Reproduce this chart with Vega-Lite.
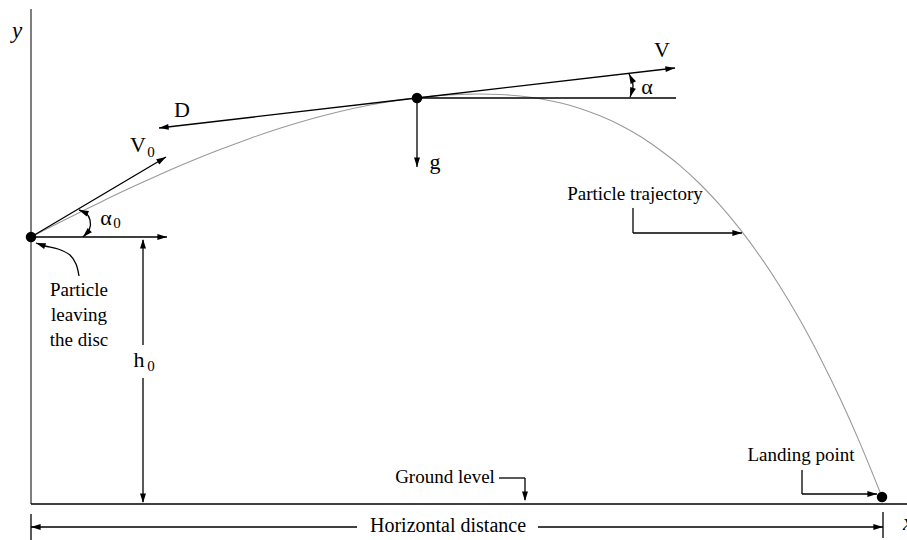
{
  "$schema": "https://vega.github.io/schema/vega-lite/v6.json",
  "width": 907,
  "height": 540,
  "autosize": {"type": "none"},
  "padding": 0,
  "background": "white",
  "config": {"view": {"stroke": null}},
  "datasets": {
    "axis": [{"x": 31, "y": 9, "x2": 31, "y2": 504}],
    "segs": [
      {"x": 31, "y": 504, "x2": 907, "y2": 504},
      {"x": 31, "y": 237, "x2": 166, "y2": 157},
      {"x": 31, "y": 237, "x2": 167, "y2": 237},
      {"x": 143, "y": 240, "x2": 143, "y2": 345},
      {"x": 143, "y": 378, "x2": 143, "y2": 502},
      {"x": 417, "y": 98, "x2": 159, "y2": 128},
      {"x": 417, "y": 98, "x2": 675, "y2": 68},
      {"x": 417, "y": 98, "x2": 676, "y2": 98},
      {"x": 417, "y": 98, "x2": 417, "y2": 167},
      {"x": 633, "y": 208, "x2": 633, "y2": 233},
      {"x": 633, "y": 233, "x2": 742, "y2": 233},
      {"x": 499, "y": 478, "x2": 525, "y2": 478},
      {"x": 525, "y": 478, "x2": 525, "y2": 500},
      {"x": 802, "y": 470, "x2": 802, "y2": 494},
      {"x": 802, "y": 494, "x2": 877, "y2": 494},
      {"x": 31, "y": 527, "x2": 357, "y2": 527},
      {"x": 538, "y": 527, "x2": 883, "y2": 527},
      {"x": 31, "y": 514, "x2": 31, "y2": 540},
      {"x": 883, "y": 512, "x2": 883, "y2": 538}
    ],
    "heads": [
      {"x": 166, "y": 157, "fx": 31, "fy": 237},
      {"x": 167, "y": 237, "fx": 31, "fy": 237},
      {"x": 143, "y": 239, "fx": 143, "fy": 300},
      {"x": 143, "y": 503, "fx": 143, "fy": 400},
      {"x": 159, "y": 128, "fx": 417, "fy": 98},
      {"x": 675, "y": 68, "fx": 417, "fy": 98},
      {"x": 417, "y": 167, "fx": 417, "fy": 98},
      {"x": 742, "y": 233, "fx": 633, "fy": 233},
      {"x": 525, "y": 501, "fx": 525, "fy": 478},
      {"x": 877, "y": 494, "fx": 802, "fy": 494},
      {"x": 31, "y": 527, "fx": 357, "fy": 527},
      {"x": 883, "y": 527, "fx": 538, "fy": 527},
      {"x": 79, "y": 210, "fx": 86, "fy": 213},
      {"x": 83, "y": 237, "fx": 89, "fy": 231},
      {"x": 629, "y": 74, "fx": 632, "fy": 80},
      {"x": 630, "y": 97, "fx": 632, "fy": 91},
      {"x": 36, "y": 243, "fx": 45, "fy": 246}
    ],
    "traj": [
      {"i": 0, "x": 31, "y": 237}, {"i": 1, "x": 50, "y": 227.2}, {"i": 2, "x": 75, "y": 214.7},
      {"i": 3, "x": 100, "y": 202.4}, {"i": 4, "x": 130, "y": 188.1}, {"i": 5, "x": 160, "y": 174.5},
      {"i": 6, "x": 190, "y": 161.6}, {"i": 7, "x": 220, "y": 149.6}, {"i": 8, "x": 250, "y": 138.4},
      {"i": 9, "x": 280, "y": 128.3}, {"i": 10, "x": 310, "y": 119.3}, {"i": 11, "x": 340, "y": 111.5},
      {"i": 12, "x": 370, "y": 105.0}, {"i": 13, "x": 400, "y": 99.9}, {"i": 14, "x": 417, "y": 97.7},
      {"i": 15, "x": 440, "y": 95.5}, {"i": 16, "x": 460, "y": 94.4}, {"i": 17, "x": 480, "y": 94},
      {"i": 18, "x": 500, "y": 94.5}, {"i": 19, "x": 520, "y": 96.0}, {"i": 20, "x": 540, "y": 98.7},
      {"i": 21, "x": 560, "y": 102.8}, {"i": 22, "x": 580, "y": 108.4}, {"i": 23, "x": 600, "y": 115.8},
      {"i": 24, "x": 620, "y": 125.0}, {"i": 25, "x": 640, "y": 136.3}, {"i": 26, "x": 660, "y": 150.0},
      {"i": 27, "x": 680, "y": 165.6}, {"i": 28, "x": 700, "y": 184.0}, {"i": 29, "x": 720, "y": 205.2},
      {"i": 30, "x": 740, "y": 229.2}, {"i": 31, "x": 760, "y": 256.2}, {"i": 32, "x": 780, "y": 286.5},
      {"i": 33, "x": 800, "y": 320.1}, {"i": 34, "x": 820, "y": 357.4}, {"i": 35, "x": 840, "y": 398.3},
      {"i": 36, "x": 860, "y": 443.1}, {"i": 37, "x": 882, "y": 497}
    ],
    "arcs": [
      {"id": "a0", "i": 0, "x": 79, "y": 210}, {"id": "a0", "i": 1, "x": 86, "y": 213},
      {"id": "a0", "i": 2, "x": 90, "y": 220}, {"id": "a0", "i": 3, "x": 89.5, "y": 229},
      {"id": "a0", "i": 4, "x": 83, "y": 237},
      {"id": "a", "i": 0, "x": 629, "y": 74}, {"id": "a", "i": 1, "x": 632, "y": 80},
      {"id": "a", "i": 2, "x": 633, "y": 86}, {"id": "a", "i": 3, "x": 632, "y": 92},
      {"id": "a", "i": 4, "x": 630, "y": 97},
      {"id": "c", "i": 0, "x": 79, "y": 276}, {"id": "c", "i": 1, "x": 76, "y": 264},
      {"id": "c", "i": 2, "x": 70, "y": 255}, {"id": "c", "i": 3, "x": 58, "y": 249},
      {"id": "c", "i": 4, "x": 45, "y": 246}, {"id": "c", "i": 5, "x": 36, "y": 243}
    ],
    "dots": [
      {"x": 31, "y": 237}, {"x": 417, "y": 98}, {"x": 882, "y": 497}
    ],
    "texts": [
      {"role": "main", "x": 662, "y": 50, "t": "V"},
      {"role": "main", "x": 647, "y": 87, "t": "α"},
      {"role": "main", "x": 182, "y": 110, "t": "D"},
      {"role": "main", "x": 138, "y": 145, "t": "V"},
      {"role": "main", "x": 435, "y": 162, "t": "g"},
      {"role": "main", "x": 106, "y": 218, "t": "α"},
      {"role": "main", "x": 139, "y": 360, "t": "h"},
      {"role": "sub", "x": 151, "y": 152, "t": "0"},
      {"role": "sub", "x": 117, "y": 223, "t": "0"},
      {"role": "sub", "x": 151, "y": 366, "t": "0"},
      {"role": "label", "x": 79, "y": 290, "t": "Particle"},
      {"role": "label", "x": 79, "y": 315, "t": "leaving"},
      {"role": "label", "x": 79, "y": 340, "t": "the disc"},
      {"role": "label", "x": 635, "y": 194, "t": "Particle trajectory"},
      {"role": "label", "x": 445, "y": 477, "t": "Ground level"},
      {"role": "label", "x": 801, "y": 455, "t": "Landing point"},
      {"role": "big", "x": 448, "y": 526, "t": "Horizontal distance"},
      {"role": "ital", "x": 17, "y": 31, "t": "y"},
      {"role": "ital", "x": 908, "y": 523, "t": "x"}
    ]
  },
  "encoding": {
    "x": {"field": "x", "type": "quantitative", "scale": {"domain": [0, 907], "nice": false, "zero": false}, "axis": null},
    "y": {"field": "y", "type": "quantitative", "scale": {"domain": [0, 540], "nice": false, "zero": false, "reverse": true}, "axis": null}
  },
  "layer": [
    {
      "data": {"name": "axis"},
      "mark": {"type": "rule", "color": "#7f7f7f", "strokeWidth": 2},
      "encoding": {"x2": {"field": "x2"}, "y2": {"field": "y2"}}
    },
    {
      "data": {"name": "traj"},
      "mark": {"type": "line", "color": "#9a9a9a", "strokeWidth": 1.1, "interpolate": "catmull-rom"},
      "encoding": {"order": {"field": "i", "type": "quantitative"}}
    },
    {
      "data": {"name": "arcs"},
      "mark": {"type": "line", "color": "black", "strokeWidth": 1.3, "interpolate": "catmull-rom"},
      "encoding": {"detail": {"field": "id", "type": "nominal"}, "order": {"field": "i", "type": "quantitative"}}
    },
    {
      "data": {"name": "segs"},
      "mark": {"type": "rule", "color": "black", "strokeWidth": 1.3},
      "encoding": {"x2": {"field": "x2"}, "y2": {"field": "y2"}}
    },
    {
      "data": {"name": "heads"},
      "transform": [{"calculate": "atan2(datum.x - datum.fx, datum.fy - datum.y) * 180 / PI", "as": "ang"}],
      "mark": {"type": "point", "shape": "M0,0L-1,3.2L1,3.2Z", "filled": true, "color": "black", "opacity": 1, "size": 36, "strokeWidth": 0},
      "encoding": {"angle": {"field": "ang", "type": "quantitative", "scale": null}}
    },
    {
      "data": {"name": "dots"},
      "mark": {"type": "point", "shape": "circle", "filled": true, "color": "black", "opacity": 1, "size": 110}
    },
    {
      "data": {"name": "texts"},
      "transform": [{"filter": "datum.role == 'main'"}],
      "mark": {"type": "text", "font": "Liberation Serif", "fontSize": 22, "baseline": "middle", "align": "center", "color": "black"},
      "encoding": {"text": {"field": "t"}}
    },
    {
      "data": {"name": "texts"},
      "transform": [{"filter": "datum.role == 'sub'"}],
      "mark": {"type": "text", "font": "Liberation Serif", "fontSize": 15, "baseline": "middle", "align": "center", "color": "black"},
      "encoding": {"text": {"field": "t"}}
    },
    {
      "data": {"name": "texts"},
      "transform": [{"filter": "datum.role == 'label'"}],
      "mark": {"type": "text", "font": "Liberation Serif", "fontSize": 19, "baseline": "middle", "align": "center", "color": "black"},
      "encoding": {"text": {"field": "t"}}
    },
    {
      "data": {"name": "texts"},
      "transform": [{"filter": "datum.role == 'big'"}],
      "mark": {"type": "text", "font": "Liberation Serif", "fontSize": 20, "baseline": "middle", "align": "center", "color": "black"},
      "encoding": {"text": {"field": "t"}}
    },
    {
      "data": {"name": "texts"},
      "transform": [{"filter": "datum.role == 'ital'"}],
      "mark": {"type": "text", "font": "Liberation Serif", "fontSize": 23, "fontStyle": "italic", "baseline": "middle", "align": "center", "color": "black"},
      "encoding": {"text": {"field": "t"}}
    }
  ]
}
